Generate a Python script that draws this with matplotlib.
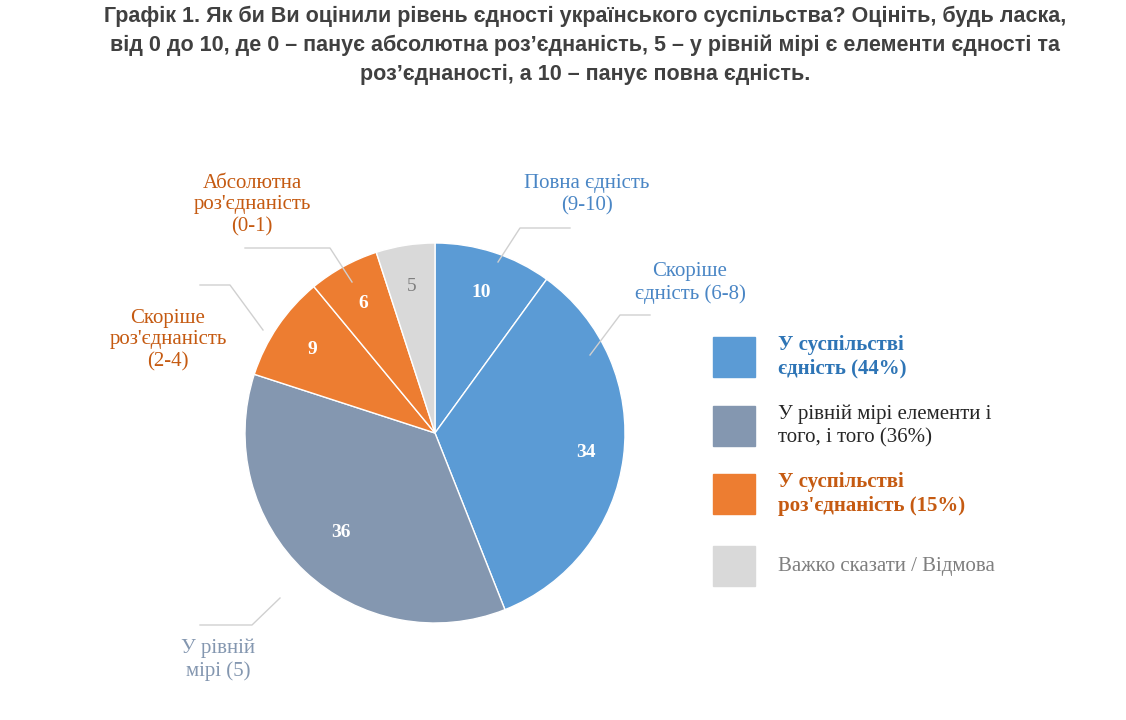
import matplotlib
matplotlib.use("Agg")
import matplotlib.pyplot as plt
import numpy as np

values = [10, 34, 36, 9, 6, 5]
inner_labels = ["10", "34", "36", "9", "6", "5"]
colors = ["#5B9BD5", "#5B9BD5", "#8497B0", "#ED7D31", "#ED7D31", "#D9D9D9"]
cat_labels = ["Повна єдність\n(9-10)", "Скоріше\nєдність (6-8)", "У рівній\nмірі (5)",
              "Скоріше\nроз'єднаність\n(2-4)", "Абсолютна\nроз'єднаність\n(0-1)", None]
cat_colors = ["#4A86C5", "#4A86C5", "#8497B0", "#C55A11", "#C55A11", None]
legend_labels = ["У суспільстві\nєдність (44%)", "У рівній мірі елементи і\nтого, і того (36%)",
                 "У суспільстві\nроз'єднаність (15%)", "Важко сказати / Відмова"]
legend_colors = ["#5B9BD5", "#8497B0", "#ED7D31", "#D9D9D9"]
legend_text_colors = ["#2E75B6", "#262626", "#C55A11", "#7F7F7F"]
legend_bold = [True, False, True, False]

W, H = 1126, 720
fig = plt.figure(figsize=(W/100, H/100), dpi=100)
def fx(x): return x / W
def fy(y): return 1 - y / H

title = ("Графік 1. Як би Ви оцінили рівень єдності українського суспільства? Оцініть, будь ласка,\n"
         "від 0 до 10, де 0 – панує абсолютна роз’єднаність, 5 – у рівній мірі є елементи єдності та\n"
         "роз’єднаності, а 10 – панує повна єдність.")
fig.text(fx(585), fy(6), title, ha="center", va="top", fontsize=15.5, fontweight="bold",
         color="#404040", family="Liberation Sans", linespacing=1.45)

cx, cy, r = 435, 433, 190
ax = fig.add_axes([fx(cx - r), fy(cy + r), 2*r/W, 2*r/H])
wedges, _ = ax.pie(values, colors=colors, startangle=90, counterclock=False,
                   wedgeprops=dict(edgecolor="white", linewidth=1))
ax.set_xlim(-1, 1); ax.set_ylim(-1, 1); ax.set_aspect("auto")

label_r = [0.78, 0.8, 0.72, 0.78, 0.78, 0.78]
for w, t, lr, c in zip(wedges, inner_labels, label_r, colors):
    a = np.deg2rad((w.theta1 + w.theta2) / 2)
    tc = "#7F7F7F" if c == "#D9D9D9" else "white"
    ax.text(lr*np.cos(a), lr*np.sin(a), t, ha="center", va="center", fontsize=14,
            fontweight="bold" if tc == "white" else "normal", color=tc, family="Liberation Serif")

pos = [(587, 195), (690, 283), (218, 660), (168, 340), (252, 205), None]
lines = [[(498, 262), (520, 228), (570, 228)],
         [(590, 355), (620, 315), (650, 315)],
         [(280, 598), (252, 625), (200, 625)],
         [(263, 330), (230, 285), (200, 285)],
         [(352, 282), (330, 248), (245, 248)], None]
for lab, p, ln, c in zip(cat_labels, pos, lines, cat_colors):
    if lab is None: continue
    fig.text(fx(p[0]), fy(p[1]), lab, ha="center", va="center", fontsize=15,
             color=c, family="Liberation Serif", linespacing=1.2)
    xs = [fx(q[0]) for q in ln]; ys = [fy(q[1]) for q in ln]
    fig.add_artist(plt.Line2D(xs, ys, color="#D0D0D0", lw=1, transform=fig.transFigure))

ys_leg = [357, 426, 494, 566]
for y, lab, fc, tc, b in zip(ys_leg, legend_labels, legend_colors, legend_text_colors, legend_bold):
    fig.add_artist(plt.Rectangle((fx(713), fy(y + 20)), 42/W, 40/H, color=fc,
                                 transform=fig.transFigure))
    fig.text(fx(778), fy(y), lab, ha="left", va="center", fontsize=15, color=tc,
             fontweight="bold" if b else "normal", family="Liberation Serif", linespacing=1.25)

fig.savefig("out.png", dpi=100, facecolor="white")
